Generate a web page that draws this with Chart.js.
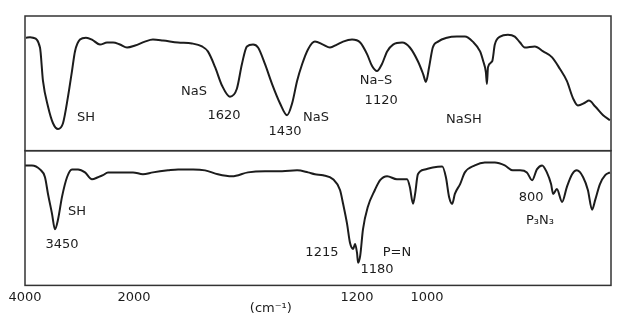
<!DOCTYPE html>
<html>
<head>
<meta charset="utf-8">
<script src="https://cdn.jsdelivr.net/npm/chart.js@4.4.1/dist/chart.umd.min.js"></script>
<style>
  body { margin: 0; background: #fff; }
  canvas { display: block; }
</style>
</head>
<body>
<canvas id="ir-chart" width="626" height="329"></canvas>
<script>
// wavenumbers (cm-1) and transmittance
var wnTop = [3982,3908,3853,3725,3670,3578,3486,3394,3303,3211,3138,3083,2991,2881,2771,2624,2495,2385,2257,2128,
  1996,1961,1932,1896,1842,1792,1756,1735,1709,1684,1656,1631,1613,1595,1573,1555,1530,1505,1476,1451,1433,1415,1397,1376,1351,1322,1297,1272,1250,1218,
  1191,1171,1157,1143,1129,1114,1097,1071,1049,1026,1011,1003,
  996,989,979,962,943,928,913,899,893,888,886,884,876,871,861,846,833,823,814,795,779,762,747,734,722,713,699,692,680,665,652];
var tTop = [83.9,84.3,83.9,76.6,51.8,32.8,20.4,16.1,20.4,40.1,59.1,73.7,82.5,83.9,82.5,78.8,80.3,80.3,78.8,76.6,
  78.1,81.0,82.5,81.8,80.3,79.6,77.4,73.7,62.0,48.2,40.1,46.0,64.2,77.4,78.8,76.6,64.2,49.6,35.0,26.3,35.0,51.8,64.2,75.2,81.0,78.8,76.6,78.8,81.0,82.5,
  80.3,71.5,62.8,59.1,64.2,73.7,78.8,80.3,76.6,66.4,56.9,51.1,
  62.0,76.6,81.0,83.9,84.7,84.7,81.0,73.7,66.4,58.4,49.6,62.0,66.4,78.8,84.7,86.1,84.7,80.3,76.6,77.4,73.7,69.3,60.6,51.8,38.7,33.6,35.8,37.2,32.8,26.3,22.6];

var wnBottom = [4000,3872,3725,3633,3578,3505,3450,3394,3321,3229,3138,3027,2899,2771,2660,2569,2477,2257,2018,
  1968,1932,1878,1842,1788,1745,1699,1648,1591,1530,1469,1415,1376,1351,1322,1286,1261,1250,1236,1225,1214,1207,
  1200,1197,1191,1183,1169,1149,1134,1114,1086,1057,1049,1040,1034,1026,1006,
  989,971,964,958,952,947,937,928,909,890,871,852,837,823,810,800,791,781,772,764,760,753,743,734,724,715,703,694,686,680,671,661,652];
var tBottom = [89.1,89.1,86.1,80.3,67.9,53.3,41.6,48.9,65.7,80.3,86.1,86.1,83.9,78.8,80.3,81.8,83.9,83.9,83.9,
  82.5,83.9,85.4,86.1,86.1,85.4,82.5,81.0,83.9,84.7,84.7,85.4,83.9,82.5,81.8,78.8,70.8,60.6,46.0,31.4,27.0,30.7,
  24.1,16.8,21.9,41.6,58.4,70.8,78.1,81.0,78.8,78.8,73.0,60.6,67.9,82.5,86.1,
  87.6,88.3,80.3,65.7,60.6,67.9,75.2,83.9,89.1,91.2,91.2,89.1,85.4,85.4,83.9,78.1,86.1,89.1,83.9,75.2,67.9,71.5,62.0,73.0,82.5,85.4,80.3,70.8,56.2,63.5,75.2,81.8,83.9];

var xTicks = [4000, 2000, 1200, 1000];

// peak labels: text, wavenumber, transmittance
var topNotes = [['SH',2881,24.8],['NaS',1785,43.8],['1620',1677,26.3],['1430',1458,13.9],['NaS',1347,24.8],
  ['Na\u2013S',1146,51.8],['1120',1131,37.2],['NaSH',930,23.4]];
var bottomNotes = [['SH',3046,54.7],['3450',3321,29.9],['1215',1326,24.1],['1180',1143,11.7],['P=N',1086,24.1],
  ['800',802,65.0],['P\u2083N\u2083',785,48.2]];

// the chart paper is not linear in wavenumber, so map it piecewise
var knotWn = [4000, 2000, 1200, 1000, 650];
var knotFrac = [0, 0.186, 0.5666, 0.686, 1];

function wnToFrac(v) {
  for (var i = 0; i < knotWn.length - 1; i++) {
    if (v >= knotWn[i + 1] || i == knotWn.length - 2) {
      var t = (knotWn[i] - v) / (knotWn[i] - knotWn[i + 1]);
      return knotFrac[i] + t * (knotFrac[i + 1] - knotFrac[i]);
    }
  }
}
function fracToWn(f) {
  for (var i = 0; i < knotFrac.length - 1; i++) {
    if (f <= knotFrac[i + 1] || i == knotFrac.length - 2) {
      var t = (f - knotFrac[i]) / (knotFrac[i + 1] - knotFrac[i]);
      return knotWn[i] + t * (knotWn[i + 1] - knotWn[i]);
    }
  }
}

class IrScale extends Chart.LinearScale {
  getPixelForValue(value) {
    return this.getPixelForDecimal(wnToFrac(value));
  }
  getValueForPixel(pixel) {
    return fracToWn(this.getDecimalForPixel(pixel));
  }
}
IrScale.id = 'irscale';
IrScale.defaults = Chart.LinearScale.defaults;
Chart.register(IrScale);

function pts(xs, ys) {
  return xs.map(function (x, i) { return { x: x, y: ys[i] }; });
}

var ink = '#1c1c1c';
var font = '13px "DejaVu Sans"';

var framePlugin = {
  id: 'frame',
  afterDraw: function (chart) {
    var ctx = chart.ctx, a = chart.chartArea, xs = chart.scales.x;
    ctx.save();
    ctx.strokeStyle = '#333';
    ctx.lineWidth = 1.5;
    ['yTop', 'yBottom'].forEach(function (id) {
      var s = chart.scales[id];
      ctx.strokeRect(a.left, s.top, a.right - a.left, s.bottom - s.top);
    });
    ctx.fillStyle = ink;
    ctx.font = font;
    ctx.textAlign = 'center';
    ctx.textBaseline = 'middle';
    topNotes.forEach(function (n) {
      ctx.fillText(n[0], xs.getPixelForValue(n[1]), chart.scales.yTop.getPixelForValue(n[2]));
    });
    bottomNotes.forEach(function (n) {
      ctx.fillText(n[0], xs.getPixelForValue(n[1]), chart.scales.yBottom.getPixelForValue(n[2]));
    });
    ctx.fillText('(cm\u207B\u00B9)', xs.getPixelForValue(1509), a.bottom + 23);
    ctx.restore();
  }
};

new Chart(document.getElementById('ir-chart'), {
  type: 'line',
  data: {
    datasets: [{
      data: pts(wnTop, tTop),
      yAxisID: 'yTop',
      borderColor: ink,
      borderWidth: 2,
      pointRadius: 0,
      cubicInterpolationMode: 'monotone',
      fill: false
    }, {
      data: pts(wnBottom, tBottom),
      yAxisID: 'yBottom',
      borderColor: ink,
      borderWidth: 2,
      pointRadius: 0,
      cubicInterpolationMode: 'monotone',
      fill: false
    }]
  },
  options: {
    responsive: false,
    animation: false,
    layout: { padding: { left: 25, right: 15, top: 16, bottom: 20 } },
    plugins: { legend: { display: false }, tooltip: { enabled: false } },
    scales: {
      x: {
        type: 'irscale',
        min: 650,
        max: 4000,
        grid: { display: false, drawTicks: false },
        border: { display: false },
        afterBuildTicks: function (s) { s.ticks = xTicks.map(function (v) { return { value: v }; }); },
        ticks: {
          autoSkip: false,
          maxRotation: 0,
          padding: 4,
          color: ink,
          font: { family: 'DejaVu Sans', size: 13 },
          callback: function (v) { return String(v); }
        }
      },
      // stacked panels are laid out bottom-first
      yBottom: { display: false, stack: 'panels', stackWeight: 1, min: 0, max: 100 },
      yTop: { display: false, stack: 'panels', stackWeight: 1, min: 0, max: 100 }
    }
  },
  plugins: [framePlugin]
});
</script>
</body>
</html>
